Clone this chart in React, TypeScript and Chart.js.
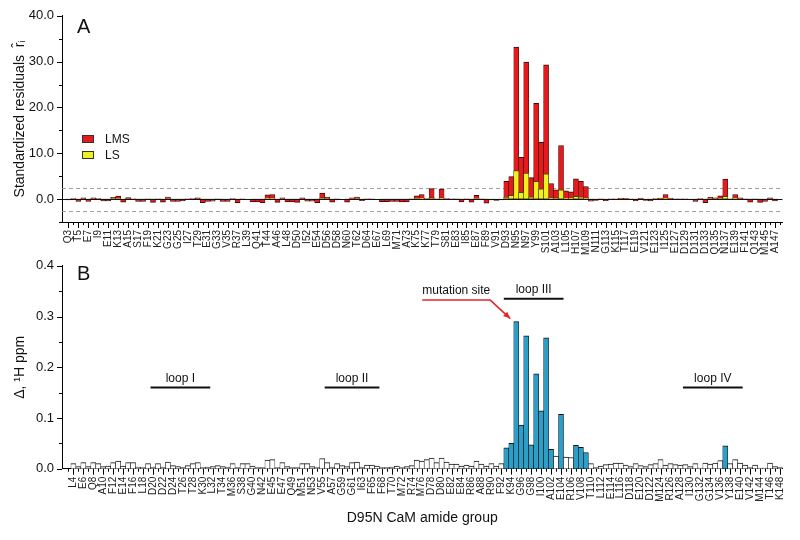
import React, { useEffect, useRef } from "react";
import { Chart, registerables } from "chart.js";

Chart.register(...registerables);

const FONT = "'Liberation Sans', Arial, Helvetica, sans-serif";
Chart.defaults.font.family = FONT;
Chart.defaults.color = "#111";

// Residue slots (P43 and P66 have no amide signal)
const residues = ["Q3","L4","T5","E6","E7","Q8","I9","A10","E11","F12","K13","E14","A15","F16","S17","L18","F19","D20","K21","D22","G23","D24","G25","T26","I27","T28","T29","K30","E31","L32","G33","T34","V35","M36","R37","S38","L39","G40","Q41","N42","T44","E45","A46","E47","L48","Q49","D50","M51","I52","N53","E54","V55","D56","A57","D58","G59","N60","G61","T62","I63","D64","F65","E67","F68","L69","T70","M71","M72","A73","R74","K75","M76","K77","D78","T79","D80","S81","E82","E83","E84","I85","R86","E87","A88","F89","R90","V91","F92","D93","K94","N95","G96","N97","G98","Y99","I100","S101","A102","A103","E104","L105","R106","H107","V108","M109","T110","N111","L112","G113","E114","K115","L116","T117","D118","E119","E120","V121","D122","E123","M124","I125","R126","E127","A128","D129","I130","D131","G132","D133","G134","Q135","V136","N137","Y138","E139","E140","F141","V142","Q143","M144","M145","T146","A147","K148"];

// Panel A: standardized residuals (LMS and LS fits)
const lms = [
  -0.2, 0.1, -0.5, 0.3, -0.5, 0.3, 0.1, -0.4, -0.4, 0.4,
  0.65, -0.65, 0.35, 0.05, -0.5, -0.5, 0.05, -0.7, 0.05, -0.65,
  0.45, -0.5, -0.5, -0.4, 0.05, 0.1, 0.25, -0.8, -0.5, -0.45,
  0.05, -0.5, -0.5, 0.1, -0.8, 0.05, 0.0, -0.6, -0.6, -0.8,
  0.95, 1.0, -0.7, 0.3, -0.6, -0.6, -0.7, 0.25, -0.45, -0.45,
  -0.8, 1.3, 0.45, -0.65, 0.05, 0.0, -0.65, 0.3, 0.45, -0.35,
  0.05, 0.05, 0.0, -0.55, -0.55, -0.5, -0.5, -0.6, -0.6, 0.05,
  0.7, 1.0, 0.1, 2.3, 0.05, 2.2, 0.1, 0.05, 0.05, -0.6,
  0.05, -0.65, 0.8, 0.05, -0.9, -0.2, -0.3, -0.2, 3.9, 4.9,
  33.2, 9.1, 29.9, 4.7, 20.9, 12.4, 29.3, 3.4, 2.0, 11.7,
  1.8, 1.6, 4.4, 3.9, 2.75, -0.45, -0.3, 0.05, -0.35, 0.05,
  0.05, 0.15, 0.15, 0.05, -0.4, 0.2, -0.3, -0.4, 0.1, 0.2,
  1.0, 0.2, 0.05, 0.05, 0.05, -0.1, -0.5, 0.1, -0.8, 0.4,
  0.3, 0.7, 4.35, 0.05, 1.0, 0.3, 0.05, -0.65, 0.05, -0.7,
  -0.5, 0.3, -0.4, null,
];
const ls = [
  -0.05, 0.05, -0.1, 0.05, -0.1, 0.05, 0.0, -0.1, -0.1, 0.1,
  0.15, -0.1, 0.05, 0.0, -0.1, -0.1, 0.0, -0.15, 0.0, -0.1,
  0.1, -0.1, -0.1, -0.1, 0.0, 0.0, 0.05, -0.15, -0.1, -0.1,
  0.0, -0.1, -0.1, 0.0, -0.15, 0.0, 0.0, -0.1, -0.1, -0.15,
  0.2, 0.2, -0.15, 0.05, -0.1, -0.1, -0.15, 0.05, -0.1, -0.1,
  -0.15, 0.25, 0.1, -0.1, 0.0, 0.0, -0.1, 0.05, 0.1, -0.05,
  0.0, 0.0, 0.0, -0.1, -0.1, -0.1, -0.1, -0.1, -0.1, 0.0,
  0.15, 0.2, 0.0, 0.35, 0.0, 0.3, 0.0, 0.0, 0.0, -0.1,
  0.0, -0.1, 0.15, 0.0, -0.15, -0.05, -0.05, -0.05, 0.45, 0.8,
  6.2, 1.5, 5.7, 0.5, 3.9, 2.25, 5.5, 0.3, 0.25, 2.0,
  0.2, 0.2, 0.6, 0.5, 0.3, -0.1, -0.05, 0.0, -0.05, 0.0,
  0.0, 0.05, 0.05, 0.0, -0.1, 0.05, -0.05, -0.1, 0.0, 0.05,
  0.2, 0.05, 0.0, 0.0, 0.0, 0.0, -0.1, 0.0, -0.15, 0.1,
  0.05, 0.15, 0.6, 0.0, 0.2, 0.05, 0.0, -0.1, 0.0, -0.15,
  -0.1, 0.05, -0.1, null,
];
const cutoffs = [2.5, -2.5];

// Panel B: 1H chemical shift differences (ppm)
const shift = [
  null, 0.010, 0.004, 0.012, 0.004, 0.012, 0.010, 0.004, 0.005, 0.012,
  0.015, 0.005, 0.012, 0.012, 0.003, 0.002, 0.010, 0.003, 0.010, 0.003,
  0.013, 0.006, 0.004, 0.003, 0.006, 0.010, 0.012, 0.002, 0.003, 0.004,
  0.006, 0.004, 0.003, 0.010, 0.002, 0.010, 0.010, 0.005, 0.002, 0.002,
  0.017, 0.018, 0.002, 0.012, 0.004, 0.002, 0.002, 0.010, 0.010, 0.004,
  0.002, 0.020, 0.012, 0.003, 0.010, 0.006, 0.004, 0.012, 0.013, 0.003,
  0.007, 0.007, 0.005, 0.002, 0.002, 0.003, 0.005, 0.002, 0.004, 0.006,
  0.017, 0.015, 0.018, 0.021, 0.012, 0.021, 0.013, 0.009, 0.009, 0.005,
  0.007, 0.005, 0.015, 0.009, 0.005, 0.010, 0.005, 0.010, 0.041, 0.050,
  0.290, 0.086, 0.262, 0.047, 0.187, 0.114, 0.258, 0.038, 0.025, 0.107,
  0.023, 0.022, 0.046, 0.042, 0.032, 0.010, 0.002, 0.005, 0.008, 0.009,
  0.011, 0.011, 0.007, 0.004, 0.010, 0.006, 0.004, 0.008, 0.010, 0.018,
  0.007, 0.010, 0.008, 0.007, 0.008, 0.004, 0.010, 0.001, 0.011, 0.009,
  0.011, 0.016, 0.045, 0.010, 0.018, 0.011, 0.007, 0.002, 0.007, 0.001,
  0.001, 0.011, 0.004, 0.003,
];
const perturbed = ["D93","K94","N95","G96","N97","G98","Y99","I100","S101","A102","E104","H107","V108","M109","N137"];
const loops = [
  { name: "loop I", from: "D20", to: "E31", level: 0.16 },
  { name: "loop II", from: "D56", to: "E67", level: 0.16 },
  { name: "loop III", from: "D93", to: "E104", level: 0.335 },
  { name: "loop IV", from: "D129", to: "E140", level: 0.16 },
];
const mutation = { residue: "N95", text: "mutation site" };

const RED = "#e41a1c";
const YELLOW = "#f2ef1e";
const BLUE = "#2c9ec8";
const X_MIN = -1.29;
const X_MAX = 143.5;

function xAxis(parity: number, height: number, title?: any) {
  return {
    type: "linear",
    min: X_MIN,
    max: X_MAX,
    offset: false,
    grid: { display: false, drawTicks: false, offset: false },
    border: { display: true, color: "#000", width: 1 },
    afterBuildTicks: (s: any) => {
      s.ticks = residues.map((_, i) => ({ value: i }));
    },
    afterFit: (s: any) => {
      s.height = height;
    },
    ticks: {
      autoSkip: false,
      maxRotation: 90,
      minRotation: 90,
      padding: 8,
      color: "#222",
      font: { size: 10 },
      callback: (v: number) => (Number.isInteger(v) && v % 2 === parity ? residues[v] : ""),
    },
    title: title || { display: false },
  };
}

function drawTicks(chart: any, parity: number) {
  const { ctx, chartArea: a, scales } = chart;
  const x = scales.x;
  const y = scales.y;
  ctx.save();
  ctx.strokeStyle = "#000";
  ctx.lineWidth = 1;
  ctx.beginPath();
  for (let i = 0; i < residues.length; i++) {
    const px = Math.round(x.getPixelForValue(i)) + 0.5;
    const len = i % 2 === parity ? 6 : 3;
    ctx.moveTo(px, a.bottom);
    ctx.lineTo(px, a.bottom + len);
  }
  for (const t of y.ticks) {
    const py = Math.round(y.getPixelForValue(t.value)) + 0.5;
    const len = t.label ? 5 : 3;
    ctx.moveTo(a.left - len, py);
    ctx.lineTo(a.left, py);
  }
  ctx.stroke();
  ctx.restore();
}

const topDecor = {
  id: "topDecor",
  beforeDatasetsDraw(chart: any) {
    const { ctx, chartArea: a, scales } = chart;
    ctx.save();
    ctx.strokeStyle = "#8a8a8a";
    ctx.lineWidth = 0.8;
    ctx.setLineDash([4, 3]);
    for (const v of cutoffs) {
      const py = Math.round(scales.y.getPixelForValue(v)) + 0.5;
      ctx.beginPath();
      ctx.moveTo(a.left, py);
      ctx.lineTo(a.right, py);
      ctx.stroke();
    }
    ctx.restore();
  },
  afterDatasetsDraw(chart: any) {
    const { ctx, chartArea: a, scales } = chart;
    const py = Math.round(scales.y.getPixelForValue(0)) + 0.5;
    ctx.save();
    ctx.strokeStyle = "#111";
    ctx.lineWidth = 1;
    ctx.beginPath();
    ctx.moveTo(a.left, py);
    ctx.lineTo(a.right, py);
    ctx.stroke();
    ctx.restore();
  },
  afterDraw(chart: any) {
    const { ctx } = chart;
    drawTicks(chart, 0);
    ctx.save();
    const items = [
      { label: "LMS", color: RED, y: 135 },
      { label: "LS", color: YELLOW, y: 151 },
    ];
    ctx.font = `12px ${FONT}`;
    ctx.textBaseline = "middle";
    ctx.textAlign = "left";
    for (const it of items) {
      ctx.fillStyle = it.color;
      ctx.fillRect(82, it.y, 12, 8);
      ctx.strokeStyle = "#333";
      ctx.lineWidth = 1;
      ctx.strokeRect(82.5, it.y + 0.5, 11, 7);
      ctx.fillStyle = "#111";
      ctx.fillText(it.label, 105, it.y + 4.5);
    }
    ctx.font = `20px ${FONT}`;
    ctx.textBaseline = "alphabetic";
    ctx.fillText("A", 77, 33);
    ctx.restore();
  },
};

const bottomDecor = {
  id: "bottomDecor",
  afterDatasetsDraw(chart: any) {
    const { ctx, scales } = chart;
    const x = scales.x;
    const y = scales.y;
    ctx.save();
    ctx.font = `12px ${FONT}`;
    ctx.textAlign = "center";
    ctx.textBaseline = "middle";
    for (const lp of loops) {
      const x1 = x.getPixelForValue(residues.indexOf(lp.from) - 0.5);
      const x2 = x.getPixelForValue(residues.indexOf(lp.to) + 0.5);
      const py = y.getPixelForValue(lp.level);
      ctx.strokeStyle = "#111";
      ctx.lineWidth = 2;
      ctx.beginPath();
      ctx.moveTo(x1, py);
      ctx.lineTo(x2, py);
      ctx.stroke();
      ctx.fillStyle = "#111";
      ctx.fillText(lp.name, (x1 + x2) / 2, py - 9);
    }
    const mi = residues.indexOf(mutation.residue);
    const tipX = x.getPixelForValue(mi - 0.5) - 3.5;
    const tipY = y.getPixelForValue(shift[mi] as number) - 3;
    const elbowX = tipX - 20;
    const elbowY = tipY - 18.5;
    const w = ctx.measureText(mutation.text).width;
    ctx.strokeStyle = "#e3242b";
    ctx.fillStyle = "#e3242b";
    ctx.lineWidth = 1.5;
    ctx.beginPath();
    ctx.moveTo(elbowX - w, elbowY);
    ctx.lineTo(elbowX, elbowY);
    ctx.lineTo(tipX, tipY);
    ctx.stroke();
    const ang = Math.atan2(tipY - elbowY, tipX - elbowX);
    ctx.beginPath();
    ctx.moveTo(tipX, tipY);
    ctx.lineTo(tipX - 7 * Math.cos(ang) + 3 * Math.sin(ang), tipY - 7 * Math.sin(ang) - 3 * Math.cos(ang));
    ctx.lineTo(tipX - 7 * Math.cos(ang) - 3 * Math.sin(ang), tipY - 7 * Math.sin(ang) + 3 * Math.cos(ang));
    ctx.closePath();
    ctx.fill();
    ctx.fillStyle = "#111";
    ctx.textAlign = "right";
    ctx.fillText(mutation.text, elbowX, elbowY - 9.5);
    ctx.restore();
  },
  afterDraw(chart: any) {
    const { ctx } = chart;
    drawTicks(chart, 1);
    ctx.save();
    ctx.fillStyle = "#111";
    ctx.font = `20px ${FONT}`;
    ctx.textAlign = "left";
    ctx.textBaseline = "alphabetic";
    ctx.fillText("B", 77, 30);
    ctx.restore();
  },
};

export default function App() {
  const topRef = useRef<HTMLCanvasElement>(null);
  const botRef = useRef<HTMLCanvasElement>(null);

  useEffect(() => {
    const top = new Chart(topRef.current as HTMLCanvasElement, {
      type: "bar",
      data: {
        datasets: [
          {
            label: "LMS",
            data: lms.map((v, i) => ({ x: i, y: v })),
            backgroundColor: RED,
            borderColor: "#3b0c0c",
            borderWidth: { top: 1, bottom: 1, left: 0.6, right: 0.6 },
            borderSkipped: false,
            grouped: false,
            order: 1,
            barPercentage: 1,
            categoryPercentage: 1,
          },
          {
            label: "LS",
            data: ls.map((v, i) => ({ x: i, y: v })),
            backgroundColor: YELLOW,
            borderColor: "#45440f",
            borderWidth: { top: 1, bottom: 1, left: 0.6, right: 0.6 },
            borderSkipped: false,
            grouped: false,
            order: 0,
            barPercentage: 1,
            categoryPercentage: 1,
          },
        ] as any,
      },
      options: {
        responsive: false,
        animation: false,
        layout: { padding: { top: 15, left: 0, right: 8, bottom: 0 } },
        plugins: { legend: { display: false }, tooltip: { enabled: false } },
        scales: {
          x: xAxis(0, 46) as any,
          y: {
            min: -5,
            max: 40,
            grid: { display: false, drawTicks: false },
            border: { display: true, color: "#000", width: 1 },
            afterFit: (s: any) => {
              s.width = 62;
            },
            ticks: {
              stepSize: 5,
              padding: 8,
              color: "#111",
              font: { size: 13 },
              callback: (v: number) => (v >= 0 && v % 10 === 0 ? v.toFixed(1) : ""),
            },
            title: {
              display: true,
              text: "Standardized residuals  r\u0302\u1D62",
              font: { size: 14 },
              color: "#111",
              padding: { top: 12, bottom: 0 },
            },
          },
        },
      },
      plugins: [topDecor],
    } as any);

    const bottom = new Chart(botRef.current as HTMLCanvasElement, {
      type: "bar",
      data: {
        datasets: [
          {
            label: "Δ 1H",
            data: shift.map((v, i) => ({ x: i, y: v })),
            backgroundColor: (c: any) =>
              perturbed.includes(residues[c.dataIndex]) ? BLUE : "#ffffff",
            borderColor: "#111",
            borderWidth: { top: 1, bottom: 0, left: 0.6, right: 0.6 },
            borderSkipped: false,
            barPercentage: 1,
            categoryPercentage: 1,
          },
        ] as any,
      },
      options: {
        responsive: false,
        animation: false,
        layout: { padding: { top: 11, left: 0, right: 8, bottom: 0 } },
        plugins: { legend: { display: false }, tooltip: { enabled: false } },
        scales: {
          x: xAxis(1, 71.3, {
            display: true,
            text: "D95N CaM amide group",
            font: { size: 14 },
            color: "#111",
            padding: { top: 0, bottom: 13.6 },
          }) as any,
          y: {
            min: 0,
            max: 0.4,
            grid: { display: false, drawTicks: false },
            border: { display: true, color: "#000", width: 1 },
            afterFit: (s: any) => {
              s.width = 62;
            },
            ticks: {
              stepSize: 0.05,
              padding: 8,
              color: "#111",
              font: { size: 13 },
              callback: (v: number) =>
                Math.abs(v * 10 - Math.round(v * 10)) < 1e-6 ? v.toFixed(1) : "",
            },
            title: {
              display: true,
              text: "Δ, ¹H ppm",
              font: { size: 14 },
              color: "#111",
              padding: { top: 12, bottom: 0 },
            },
          },
        },
      },
      plugins: [bottomDecor],
    } as any);

    return () => {
      top.destroy();
      bottom.destroy();
    };
  }, []);

  return (
    <div style={{ position: "fixed", left: 0, top: 0, width: 800, height: 540, background: "#fff" }}>
      <canvas ref={topRef} width={800} height={268} style={{ position: "absolute", left: 0, top: 0 }} />
      <canvas ref={botRef} width={800} height={290} style={{ position: "absolute", left: 0, top: 250 }} />
    </div>
  );
}
